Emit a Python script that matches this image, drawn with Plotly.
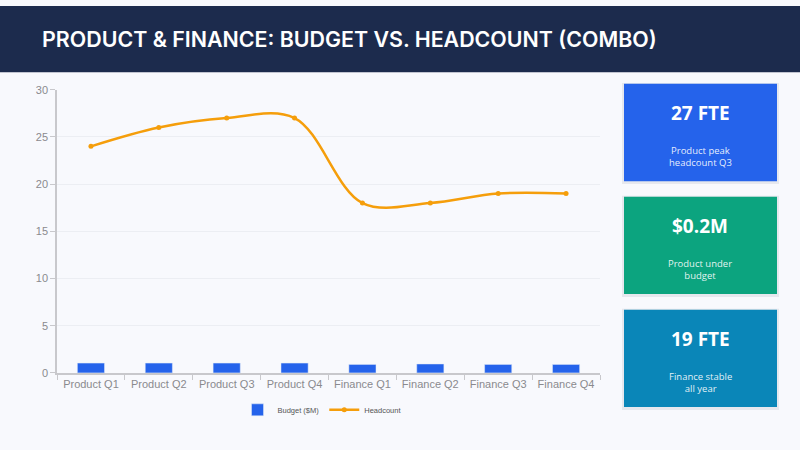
import plotly.graph_objects as go

# datos del gráfico
categorias = ["Product Q1", "Product Q2", "Product Q3", "Product Q4",
              "Finance Q1", "Finance Q2", "Finance Q3", "Finance Q4"]
presupuesto = [1.05, 1.05, 1.05, 1.05, 0.9, 0.95, 0.9, 0.9]
plantilla = [24, 26, 27, 27, 18, 18, 19, 19]
y_ticks = [0, 5, 10, 15, 20, 25, 30]

tarjetas_valor = ["27 FTE", "$0.2M", "19 FTE"]
tarjetas_texto = ["Product peak<br>headcount Q3", "Product under<br>budget", "Finance stable<br>all year"]
tarjetas_color = ["#2563eb", "#0ca47f", "#0a86b8"]

W, H = 800, 450


def px(x):
    return x / W


def py(y):
    return 1 - y / H


fig = go.Figure()

fig.add_trace(go.Bar(
    x=categorias, y=presupuesto, name="Budget ($M)",
    marker=dict(color="#2563eb"), width=0.4,
))
fig.add_trace(go.Scatter(
    x=categorias, y=plantilla, name="Headcount", mode="lines+markers",
    line=dict(color="#f59e0b", width=2.5, shape="spline", smoothing=1),
    marker=dict(size=5, color="#f59e0b"),
))

shapes = []
annotations = []

# cabecera
shapes.append(dict(type="rect", xref="paper", yref="paper", x0=0, x1=1, y0=py(68), y1=1,
                   fillcolor="#1c2b4d", line=dict(width=0), layer="below"))
annotations.append(dict(text="PRODUCT & FINANCE: BUDGET VS. HEADCOUNT (COMBO)",
                        xref="paper", yref="paper", x=px(40), y=py(34),
                        xanchor="left", yanchor="middle", showarrow=False,
                        font=dict(family="Inter", size=21.4, color="white", weight=600)))

# tarjetas
tops = [80, 196, 312]
for i in range(3):
    t = tops[i]
    shapes.append(dict(type="rect", xref="paper", yref="paper",
                       x0=px(622), x1=px(779), y0=py(t + 103), y1=py(t - 1),
                       fillcolor="#e6e8ee", line=dict(width=0), layer="below"))
    shapes.append(dict(type="rect", xref="paper", yref="paper",
                       x0=px(624), x1=px(777), y0=py(t + 100), y1=py(t),
                       fillcolor=tarjetas_color[i], line=dict(width=0), layer="below"))
    annotations.append(dict(text="<b>" + tarjetas_valor[i] + "</b>", xref="paper", yref="paper",
                            x=px(700), y=py(t + 30), xanchor="center", yanchor="middle",
                            showarrow=False, font=dict(family="Open Sans", size=19, color="white")))
    annotations.append(dict(text=tarjetas_texto[i], xref="paper", yref="paper",
                            x=px(700), y=py(t + 75), xanchor="center", yanchor="middle",
                            showarrow=False,
                            font=dict(family="Open Sans", size=9.5, color="rgba(255,255,255,0.9)")))

fig.update_layout(
    width=W, height=H,
    margin=dict(l=0, r=0, t=0, b=0),
    paper_bgcolor="#f8f9fd",
    plot_bgcolor="#f8f9fd",
    shapes=shapes,
    annotations=annotations,
    showlegend=True,
    legend=dict(orientation="h", x=px(322), y=py(400), xanchor="center", yanchor="top",
                itemwidth=30, font=dict(family="Liberation Sans", size=7.5, color="#555")),
    bargap=0.6,
    xaxis=dict(domain=[px(57), px(600)], showline=True, linecolor="#c8c8cc", linewidth=1.5,
               ticks="outside", tickson="boundaries", ticklen=5, tickcolor="#c8c8cc",
               tickfont=dict(family="Liberation Sans", size=11, color="#8a8a8e"), showgrid=False),
    yaxis=dict(domain=[py(377), py(86)], range=[0, 30], tickvals=y_ticks,
               showline=True, linecolor="#c8c8cc", linewidth=1.5,
               ticks="outside", ticklen=5, tickcolor="#c8c8cc",
               gridcolor="#eceef3", zeroline=False,
               tickfont=dict(family="Liberation Sans", size=11, color="#8a8a8e")),
)

# quitar el margen del body para que la figura ocupe la ventana
fig.write_html("out.html", config={"displayModeBar": False},
               post_script="document.body.style.margin='0';document.body.style.overflow='hidden';")
